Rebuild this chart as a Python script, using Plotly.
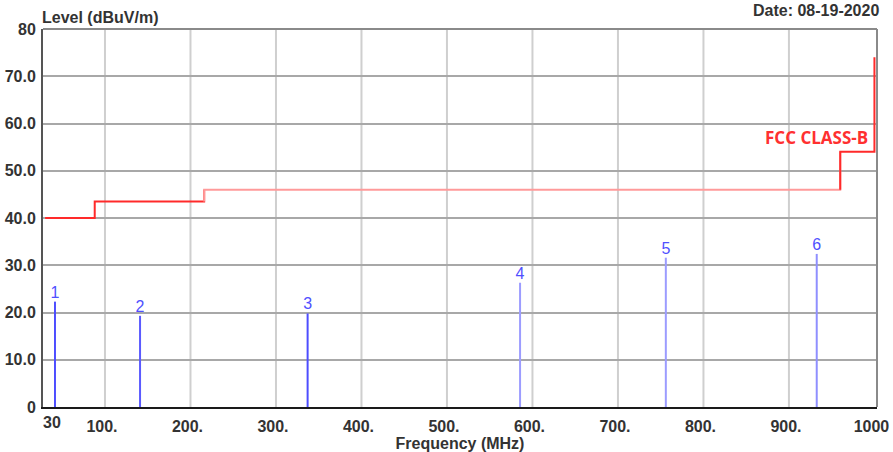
import plotly.graph_objects as go

# ---------------- data ----------------
x_range = [27.5, 1003]
grid_freq = [100, 200, 300, 400, 500, 600, 700, 800, 900]
x_tick_vals = [100, 200, 300, 400, 500, 600, 700, 800, 900, 1000]
x_tick_text = ["100.", "200.", "300.", "400.", "500.", "600.", "700.", "800.", "900.", "1000"]
x_start_label = "30"
x_start_freq = 30

y_tick_vals = [0, 10, 20, 30, 40, 50, 60, 70, 80]
y_tick_text = ["0", "10.0", "20.0", "30.0", "40.0", "50.0", "60.0", "70.0", "80"]

limit_freq = [30, 88, 88, 216, 216, 960, 960, 1000, 1000]
limit_level = [40, 40, 43.5, 43.5, 46, 46, 54, 54, 74]
limit_name = "FCC CLASS-B"

peak_ids = ["1", "2", "3", "4", "5", "6"]
peak_freq = [41.5, 141, 337, 585.5, 756, 932.5]
peak_level = [22.3, 19.3, 19.8, 26.3, 31.6, 32.4]
peak_colors = ["#4d4dff", "#5a5aff", "#4d4dff", "#9c9cff", "#9c9cff", "#8f8fff"]

# ---------------- figure ----------------
fig = go.Figure()

# limit line, split in three shades like the reference
segs = [(0, 4, "#ff2a2a"), (3, 6, "#ff9a9a"), (5, 8, "#ff2a2a")]
for a, b, col in segs:
    fig.add_trace(go.Scatter(x=limit_freq[a:b + 1], y=limit_level[a:b + 1],
                             mode="lines", line=dict(color=col, width=2),
                             hoverinfo="skip", showlegend=False))

# peaks
for pid, f, lv, col in zip(peak_ids, peak_freq, peak_level, peak_colors):
    fig.add_trace(go.Scatter(x=[f, f], y=[0, lv], mode="lines",
                             line=dict(color=col, width=2), showlegend=False))
fig.add_trace(go.Scatter(x=peak_freq, y=peak_level, mode="text", text=peak_ids,
                         textposition="top center",
                         textfont=dict(family="Liberation Sans", size=16, color="#5050ff"),
                         showlegend=False))

# vertical grid
for g in grid_freq:
    fig.add_shape(type="line", xref="x", yref="paper", x0=g, x1=g, y0=0, y1=1,
                  line=dict(color="#cfcfcf", width=2), layer="below")

# top/right frame
fig.add_shape(type="line", xref="paper", yref="paper", x0=0, x1=1, y0=1, y1=1,
              line=dict(color="#8a8a8a", width=2))
fig.add_shape(type="line", xref="paper", yref="paper", x0=1, x1=1, y0=0, y1=1,
              line=dict(color="#8a8a8a", width=2))

font_b = dict(family="Liberation Sans", size=16, color="#333333", weight="bold")

fig.add_annotation(x=x_start_freq, y=0, xref="x", yref="paper", text=x_start_label,
                   showarrow=False, xanchor="left", yanchor="top", xshift=-4, yshift=-5,
                   font=font_b)
fig.add_annotation(x=limit_freq[-1], y=limit_level[-2], xref="x", yref="y", text=limit_name,
                   showarrow=False, xanchor="right", yanchor="bottom", xshift=-4, yshift=1,
                   font=dict(family="Open Sans", size=17, color="#ff3030", weight="bold"))
fig.add_annotation(x=0, y=1, xref="paper", yref="paper", text="Level (dBuV/m)",
                   showarrow=False, xanchor="left", yanchor="bottom", xshift=-3, yshift=1,
                   font=font_b)
fig.add_annotation(x=1, y=1, xref="paper", yref="paper", text="Date: 08-19-2020",
                   showarrow=False, xanchor="right", yanchor="bottom", xshift=4, yshift=8,
                   font=font_b)

fig.update_layout(
    width=893, height=452,
    margin=dict(l=43, r=16, t=29, b=45),
    paper_bgcolor="white", plot_bgcolor="white",
    showlegend=False,
    xaxis=dict(range=x_range, tickmode="array", tickvals=x_tick_vals, ticktext=x_tick_text,
               showgrid=False, zeroline=False, showline=True, linecolor="#1a1a1a", linewidth=2,
               ticks="", tickfont=dict(family="Liberation Sans", size=16, color="#333333", weight="bold"),
               ticklabelshift=-3, ticklabelstandoff=4, automargin=False,
               title=dict(text="Frequency (MHz)", font=font_b, standoff=4)),
    yaxis=dict(range=[0, 80], tickmode="array", tickvals=y_tick_vals, ticktext=y_tick_text,
               showgrid=True, gridcolor="#a8a8a8", gridwidth=2, zeroline=False,
               showline=True, linecolor="#555555", linewidth=2, ticks="", automargin=False,
               tickfont=dict(family="Liberation Sans", size=16, color="#333333", weight="bold"),
               ticklabelstandoff=2),
)

fig.write_html("out.html", config={"displayModeBar": False},
               post_script="document.body.style.margin='0';document.body.style.overflow='hidden';")
